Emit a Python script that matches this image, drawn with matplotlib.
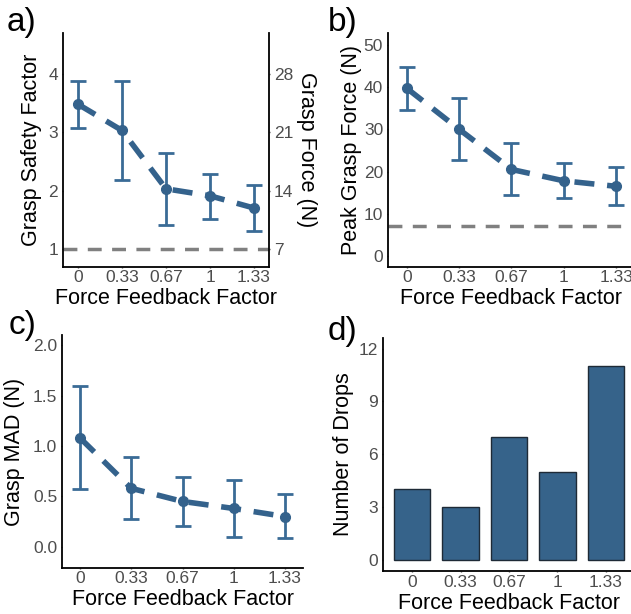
import matplotlib.pyplot as plt

plt.rcParams["font.family"] = ["Liberation Sans", "DejaVu Sans"]

# shared categories
feedback = ["0", "0.33", "0.67", "1", "1.33"]

# a) grasp safety factor
safety = [3.48, 3.03, 2.03, 1.91, 1.70]
safety_lo = [3.08, 2.18, 1.41, 1.51, 1.30]
safety_hi = [3.88, 3.88, 2.65, 2.29, 2.10]
safety_ref = 1.0
force_per_safety = 7  # right axis: grasp force = 7 * safety factor
force_ticks = [7, 14, 21, 28]

# b) peak grasp force
peak = [39.7, 30.0, 20.5, 17.8, 16.5]
peak_lo = [34.5, 22.7, 14.4, 13.7, 12.0]
peak_hi = [44.8, 37.4, 26.7, 22.1, 21.1]
peak_ref = 7.0

# c) grasp MAD
mad = [1.08, 0.58, 0.45, 0.38, 0.30]
mad_lo = [0.57, 0.28, 0.21, 0.10, 0.09]
mad_hi = [1.59, 0.89, 0.69, 0.66, 0.52]

# d) drops
drops = [4, 3, 7, 5, 11]

BLUE = "#34628C"
EBAR = "#3A6B96"
GREY = "#4D4D4D"
TICK_FS = 12.5
LABEL_FS = 15.5
W, H = 631, 614


def place(left, right, top, bottom):
    return [left / W, 1 - bottom / H, (right - left) / W, (bottom - top) / H]


def style(ax, xpad=1.2):
    for s in ["top", "right"]:
        ax.spines[s].set_visible(False)
    for s in ["left", "bottom"]:
        ax.spines[s].set_linewidth(1.3)
    ax.tick_params(labelsize=TICK_FS, labelcolor=GREY, color=GREY, length=1, width=1)
    ax.tick_params(axis="x", pad=xpad)
    ax.tick_params(axis="y", pad=2.5)
    ax.set_xticks(range(len(feedback)))
    ax.set_xticklabels(feedback)


def labels(ax, ylabel, ylab_x, xlab_y):
    ax.set_ylabel(ylabel, fontsize=LABEL_FS)
    ax.yaxis.set_label_coords(ylab_x, 0.5)
    ax.set_xlabel("Force Feedback Factor", fontsize=LABEL_FS)
    ax.xaxis.set_label_coords(0.5, xlab_y)


def trend(ax, y, lo, hi):
    x = list(range(len(y)))
    err = [[v - l for v, l in zip(y, lo)], [h - v for v, h in zip(y, hi)]]
    ax.errorbar(x, y, yerr=err, fmt="none", ecolor=EBAR, elinewidth=2,
                capsize=6, capthick=2, zorder=2)
    ax.plot(x, y, color=BLUE, lw=4, linestyle=(0, (3.6, 2.3)),
            dash_capstyle="butt", zorder=3)
    ax.plot(x, y, "o", color=BLUE, markersize=7, zorder=4)


fig = plt.figure(figsize=(W / 100, H / 100), dpi=100)

# a)
ax = fig.add_axes(place(63, 269, 33, 267))
style(ax)
ax.axhline(safety_ref, color="#808080", lw=2.5, linestyle=(0, (4, 3)), zorder=1)
trend(ax, safety, safety_lo, safety_hi)
ax.set_xlim(-0.34, 4.34)
ax.set_ylim(0.69, 4.70)
ax.set_yticks([1, 2, 3, 4])
labels(ax, "Grasp Safety Factor", -0.10, -0.09)
ax2 = ax.twinx()
for s in ["top", "left", "bottom"]:
    ax2.spines[s].set_visible(False)
ax2.spines["right"].set_linewidth(1.3)
ax2.set_ylim(ax.get_ylim()[0] * force_per_safety, ax.get_ylim()[1] * force_per_safety)
ax2.set_yticks(force_ticks)
ax2.tick_params(labelsize=TICK_FS, labelcolor=GREY, color=GREY, length=1, width=1, pad=2.5)
ax2.set_ylabel("Grasp Force (N)", fontsize=LABEL_FS, rotation=270, va="bottom")
ax2.yaxis.set_label_coords(1.131, 0.5)

# b)
ax = fig.add_axes(place(388, 635, 33, 267))
style(ax)
ax.axhline(peak_ref, color="#808080", lw=2.5, linestyle=(0, (4, 3)), zorder=1)
trend(ax, peak, peak_lo, peak_hi)
ax.set_xlim(-0.36, 4.36)
ax.set_ylim(-2.6, 52.8)
ax.set_yticks([0, 10, 20, 30, 40, 50])
labels(ax, "Peak Grasp Force (N)", -0.105, -0.09)

# c)
ax = fig.add_axes(place(62, 303, 335, 568))
style(ax)
trend(ax, mad, mad_lo, mad_hi)
ax.set_xlim(-0.35, 4.35)
ax.set_ylim(-0.21, 2.1)
ax.set_yticks([0.0, 0.5, 1.0, 1.5, 2.0])
ax.set_yticklabels(["0.0", "0.5", "1.0", "1.5", "2.0"])
labels(ax, "Grasp MAD (N)", -0.154, -0.09)

# d)
ax = fig.add_axes(place(383, 635, 338, 571))
style(ax, xpad=2.2)
ax.bar(range(len(drops)), drops, width=0.76, color="#36638A",
       edgecolor="#1E2A36", linewidth=1)
ax.set_xlim(-0.6, 4.6)
ax.set_ylim(-0.63, 12.6)
ax.set_yticks([0, 3, 6, 9, 12])
labels(ax, "Number of Drops", -0.117, -0.095)

for letter, x, y in [("a)", 7, 31), ("b)", 328, 31), ("c)", 9, 334), ("d)", 328, 340)]:
    fig.text(x / W, 1 - y / H, letter, fontsize=24, va="baseline", ha="left")

fig.savefig("out.png", dpi=100)
